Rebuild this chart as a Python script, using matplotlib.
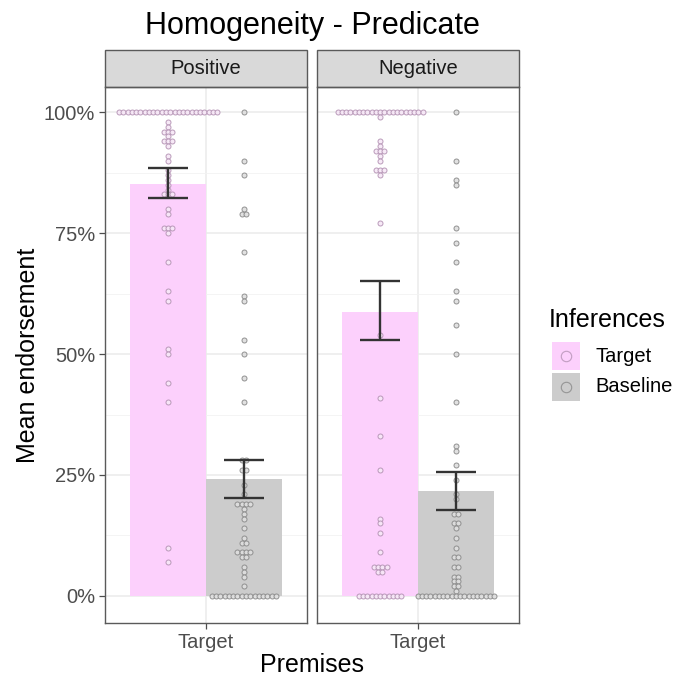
import matplotlib
matplotlib.use("Agg")
import matplotlib.pyplot as plt
import numpy as np
from matplotlib.patches import Rectangle
from matplotlib.lines import Line2D
from matplotlib.ticker import FuncFormatter, MultipleLocator
from collections import Counter

plt.rcParams['font.family'] = ['Liberation Sans', 'DejaVu Sans']

# ---------------- data ----------------
title = "Homogeneity - Predicate"
panels = ["Positive", "Negative"]
premise_cats = ["Target"]
inference_cats = ["Target", "Baseline"]

pos_target = [100] * 24 + [98, 97, 96, 96, 96, 95, 94, 94, 94, 93, 91, 90, 88, 87, 86, 85, 84,
                           83, 83, 83, 80, 79, 76, 76, 76, 75, 69, 63, 61, 51, 50, 44, 40, 10, 7]
pos_baseline = [100, 90, 87, 80, 79, 79, 71, 62, 61, 53, 50, 45, 40, 28, 28, 26, 26, 23, 21,
                19, 19, 19, 19, 18, 17, 16, 14, 12, 11, 11, 9, 9, 9, 9, 8, 8, 6, 5, 4, 2] + [0] * 16
neg_target = [100] * 21 + [99, 94, 93, 92, 92, 92, 91, 90, 88, 88, 88, 87, 77, 54, 41, 33, 26,
                           16, 15, 13, 9, 6, 6, 6, 6, 5, 5] + [0] * 11
neg_baseline = [100, 90, 86, 85, 76, 73, 69, 63, 61, 56, 50, 40, 31, 30, 27, 24, 21, 20,
                17, 17, 15, 15, 14, 12, 10, 8, 8, 6, 6, 4, 4, 3, 3, 2, 2, 1] + [0] * 19

pos_means = [85.2, 24.2]
pos_err_low = [82.2, 20.2]
pos_err_high = [88.4, 28.1]
neg_means = [58.7, 21.7]
neg_err_low = [52.9, 17.8]
neg_err_high = [65.1, 25.6]

dots = [[pos_target, pos_baseline], [neg_target, neg_baseline]]
means = [pos_means, neg_means]
err_low = [pos_err_low, neg_err_low]
err_high = [pos_err_high, neg_err_high]

# ---------------- style ----------------
bar_colors = ['#FCD0FC', '#CCCCCC']
dot_edge = ['#B391B3', '#888888']
dot_face = ['#F7E8F7', '#DEDEDE']

W, H = 673, 677
fig = plt.figure(figsize=(W / 100, H / 100), dpi=100)

def fx(px):
    return px / W

def fy(py):
    return 1 - py / H

panel_top, panel_bot = 87, 623
lefts = [105, 317]
pw = 202
axes = []
dodge = 0.45
spacing = 0.0253

for k, name in enumerate(panels):
    ax = fig.add_axes([fx(lefts[k]), fy(panel_bot), pw / W, (panel_bot - panel_top) / H])
    axes.append(ax)
    ax.set_xlim(0.4, 1.6)
    ax.set_ylim(-5.6, 105.2)
    ax.set_facecolor('white')
    ax.yaxis.set_major_locator(MultipleLocator(25))
    ax.yaxis.set_minor_locator(MultipleLocator(12.5))
    ax.grid(which='major', color='#EBEBEB', lw=1.1, zorder=0)
    ax.grid(which='minor', axis='y', color='#F2F2F2', lw=0.6, zorder=0)
    ax.set_axisbelow(True)
    ax.set_xticks([1])
    ax.set_xticklabels(premise_cats, fontsize=14.5, color='#4D4D4D')
    ax.tick_params(axis='both', length=4, color='#4D4D4D', width=0.9, pad=3)
    ax.tick_params(which='minor', length=0)
    for s in ax.spines.values():
        s.set_color('#5A5A5A')
        s.set_linewidth(1.0)
        s.set_zorder(10)
    if k == 0:
        ax.yaxis.set_major_formatter(FuncFormatter(lambda v, p: f"{int(v)}%"))
        ax.tick_params(axis='y', labelsize=14.5, labelcolor='#4D4D4D')
    else:
        ax.tick_params(axis='y', labelleft=False, length=0)

    for j in range(2):
        xc = 1 + (j - 0.5) * dodge
        ax.bar(xc, means[k][j], width=dodge, color=bar_colors[j], zorder=2)
        counts = Counter(dots[k][j])
        xs, ys = [], []
        for v, n in counts.items():
            for i in range(n):
                xs.append(xc + (i - (n - 1) / 2) * spacing)
                ys.append(v)
        ax.plot(xs, ys, 'o', ms=3.6, mfc=dot_face[j], mec=dot_edge[j], mew=0.7,
                alpha=0.9, zorder=3, clip_on=False)
        ax.vlines(xc, err_low[k][j], err_high[k][j], color='#333333', lw=1.7, zorder=4)
        ax.hlines([err_low[k][j], err_high[k][j]], xc - 0.12, xc + 0.12,
                  color='#333333', lw=1.7, zorder=4)

    # strip
    sh = (panel_top - 50) / (panel_bot - panel_top)
    ax.add_patch(Rectangle((0, 1), 1, sh, transform=ax.transAxes, facecolor='#D9D9D9',
                           edgecolor='#5A5A5A', lw=1.0, clip_on=False, zorder=5))
    ax.text(0.5, 1 + sh / 2, name, transform=ax.transAxes, ha='center', va='center',
            fontsize=14.5, color='#1A1A1A', zorder=6)

fig.text(fx(312), fy(26), title, ha='center', va='center', fontsize=22, color='black')
fig.text(fx(312), fy(665), "Premises", ha='center', va='center', fontsize=18, color='black')
fig.text(fx(28), fy(355), "Mean endorsement", ha='center', va='center', rotation=90,
         fontsize=18, color='black')

# legend
fig.text(fx(549), fy(320), "Inferences", ha='left', va='center', fontsize=18, color='black')
key_y = [356, 387]
for j, lab in enumerate(inference_cats):
    fig.add_artist(Rectangle((fx(552), fy(key_y[j] + 14)), 28 / W, 28 / H,
                             transform=fig.transFigure, facecolor=bar_colors[j], edgecolor='none'))
    fig.add_artist(Line2D([fx(566)], [fy(key_y[j])], marker='o', ms=7.5, mfc='none',
                          mec=dot_edge[j], mew=0.8, transform=fig.transFigure, alpha=0.8))
    fig.text(fx(595), fy(key_y[j]), lab, ha='left', va='center', fontsize=14.5, color='black')

fig.savefig("out.png", dpi=100)
